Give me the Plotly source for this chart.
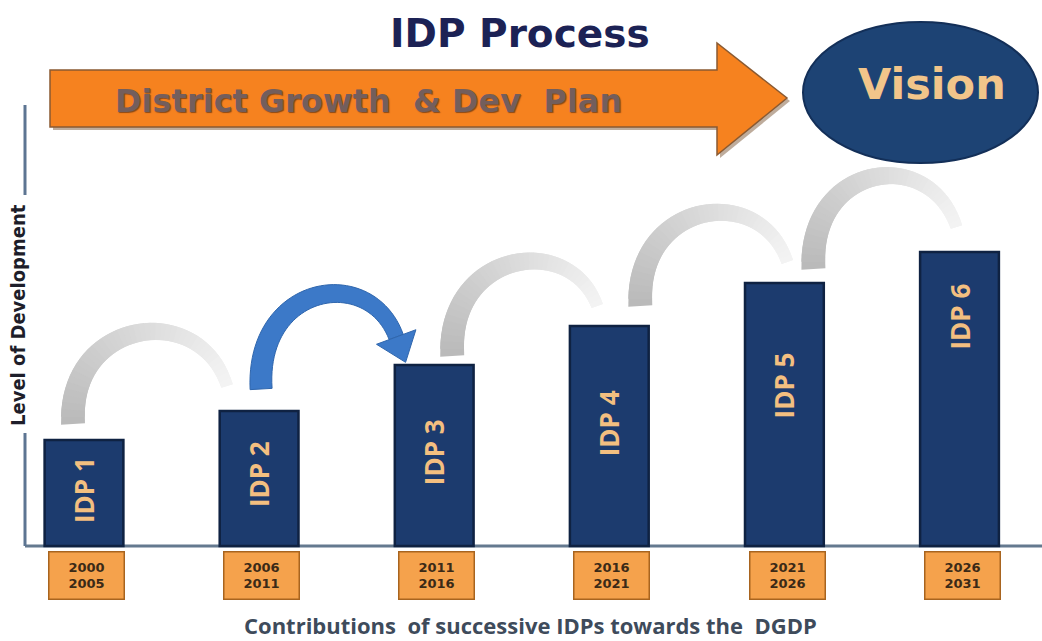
import numpy as np
import plotly.graph_objects as go

# ---- data -------------------------------------------------------------
plans = ["IDP 1", "IDP 2", "IDP 3", "IDP 4", "IDP 5", "IDP 6"]
periods = ["2000<br>2005", "2006<br>2011", "2011<br>2016",
           "2016<br>2021", "2021<br>2026", "2026<br>2031"]
levels = [1.06, 1.35, 1.81, 2.20, 2.63, 2.94]   # level of development

# ---- canvas geometry (pixels <-> axis units) --------------------------
W, H = 1042, 641
BASE_PX = 546          # pixel row of the zero line
X0_PX, STEP_PX = 84.0, 175.1
UNIT_PX = 100.0

def xd(px):
    return (px - X0_PX) / STEP_PX

def yd(py):
    return (BASE_PX - py) / UNIT_PX

def xp(x):
    return X0_PX + x * STEP_PX

def yp(y):
    return BASE_PX - y * UNIT_PX

pos = list(range(len(plans)))

# label placement (pixel rows of the rotated bar labels)
label_rows = [490, 474, 452, 423, 385, 317]
# arc anchors: (dx from bar centre, height above bar top) in pixels
arc_start = [(-11, 16), (2, 22), (18, 9), (31, 20), (29, 14)]
arc_end = [(-32, 25), (-38, 28), (-12, 20), (3, 21), (-3, 25)]

shapes = []


def path_from(points, close=True):
    s = "M " + " L ".join(f"{xd(x):.5f},{yd(y):.5f}" for x, y in points)
    return s + (" Z" if close else "")


def bezier(p0, p1, p2, p3, n):
    t = np.linspace(0, 1, n)[:, None]
    pts = ((1 - t) ** 3) * p0 + 3 * ((1 - t) ** 2) * t * p1 + 3 * (1 - t) * t ** 2 * p2 + t ** 3 * p3
    der = 3 * ((1 - t) ** 2) * (p1 - p0) + 6 * (1 - t) * t * (p2 - p1) + 3 * t ** 2 * (p3 - p2)
    der = der / np.linalg.norm(der, axis=1)[:, None]
    nrm = np.stack([-der[:, 1], der[:, 0]], axis=1)
    return t[:, 0], pts, der, nrm


def arc_curve(i):
    cx0, top0 = xp(pos[i]), yp(levels[i])
    cx1, top1 = xp(pos[i + 1]), yp(levels[i + 1])
    p0 = np.array([cx0 + arc_start[i][0], top0 - arc_start[i][1]])
    p3 = np.array([cx1 + arc_end[i][0], top1 - arc_end[i][1]])
    p1 = np.array([p0[0] - 6, p0[1] - 105])
    p2 = np.array([p3[0] - 27, p0[1] - 125])
    return p0, p1, p2, p3


# ---- faded grey arcs and the highlighted blue arc ----------------------
for i in range(len(plans) - 1):
    p0, p1, p2, p3 = arc_curve(i)
    if i == 1:
        n = 50
        t, pts, der, nrm = bezier(p0, p1, p2, p3, n)
        w = (22 + (15 - 22) * t)[:, None] / 2
        left = pts + nrm * w
        right = pts - nrm * w
        outline = [tuple(p) for p in left] + [tuple(p) for p in right[::-1]]
        shapes.append(dict(type="path", xref="x", yref="y", path=path_from(outline),
                           fillcolor="#3c79c8", line=dict(color="#2f66ad", width=1),
                           layer="above"))
        d, nn = der[-1], nrm[-1]
        tip = p3 + d * 27
        head = [tuple(p3 + nn * 21), tuple(tip), tuple(p3 - nn * 21)]
        shapes.append(dict(type="path", xref="x", yref="y", path=path_from(head),
                           fillcolor="#3c79c8", line=dict(color="#2f66ad", width=1),
                           layer="above"))
        continue
    n = 44
    t, pts, der, nrm = bezier(p0, p1, p2, p3, n)
    w = (24 + (12 - 24) * t)[:, None] / 2
    left = pts + nrm * w
    right = pts - nrm * w
    for k in range(n - 1):
        k2 = min(k + 2, n - 1)
        quad = [tuple(left[k]), tuple(left[k2]), tuple(right[k2]), tuple(right[k])]
        g = int(186 + (245 - 186) * (t[k] ** 0.85))
        col = f"rgb({g},{g},{g})"
        shapes.append(dict(type="path", xref="x", yref="y", path=path_from(quad),
                           fillcolor=col, line=dict(width=0), layer="above"))

# ---- banner arrow ------------------------------------------------------
arrow = [(50, 70), (717, 70), (717, 43), (787, 98), (717, 155), (717, 127), (50, 127)]
shadow = [(x + 3, y + 3) for x, y in arrow]
shapes.append(dict(type="path", xref="x", yref="y", path=path_from(shadow),
                   fillcolor="rgba(110,70,35,0.45)", line=dict(width=0), layer="above"))
shapes.append(dict(type="path", xref="x", yref="y", path=path_from(arrow),
                   fillcolor="#f6821f", line=dict(color="#8a5a32", width=1.5), layer="above"))

# ---- vision ellipse ----------------------------------------------------
shapes.append(dict(type="circle", xref="x", yref="y",
                   x0=xd(803), x1=xd(1038), y0=yd(163), y1=yd(22),
                   fillcolor="#1d4374", line=dict(color="#132f58", width=2), layer="above"))

# ---- axis lines --------------------------------------------------------
axis_col = "#5d7592"
shapes.append(dict(type="line", xref="x", yref="y", x0=xd(25), x1=xd(25), y0=yd(105), y1=yd(195),
                   line=dict(color=axis_col, width=3)))
shapes.append(dict(type="line", xref="x", yref="y", x0=xd(25), x1=xd(25), y0=yd(433), y1=0,
                   line=dict(color=axis_col, width=3)))
shapes.append(dict(type="line", xref="x", yref="y", x0=xd(25), x1=xd(1042), y0=0, y1=0,
                   line=dict(color="#64798f", width=3), layer="below"))

# ---- bars --------------------------------------------------------------
fig = go.Figure(go.Bar(
    x=pos, y=levels, width=0.45,
    marker=dict(color="#1c3b6e", line=dict(color="#0f2242", width=2.5)),
    hoverinfo="skip",
))

annotations = []
for i, name in enumerate(plans):
    annotations.append(dict(x=pos[i], y=yd(label_rows[i]), xref="x", yref="y", text=name,
                            textangle=-90, showarrow=False,
                            font=dict(family="Open Sans", size=26, color="#f3bf80", weight="bold")))
    annotations.append(dict(x=pos[i] + 0.015, y=yd(575), xref="x", yref="y", text=periods[i],
                            showarrow=False, width=72, height=44, borderpad=1, borderwidth=1.5,
                            bgcolor="#f5a24c", bordercolor="#a8641f", align="center",
                            font=dict(family="DejaVu Sans", size=13, color="#3b2a17", weight="bold")))

annotations += [
    dict(x=xd(520), y=yd(33), xref="x", yref="y", text="IDP Process", showarrow=False,
         font=dict(family="DejaVu Sans", size=39, color="#1c2255", weight="bold")),
    dict(x=xd(368), y=yd(101), xref="x", yref="y", text="District Growth  & Dev  Plan",
         showarrow=False,
         font=dict(family="DejaVu Sans", size=32, color="#735e5c", weight="bold",
                   shadow="1px 1px 1px rgba(70,35,15,0.6)")),
    dict(x=xd(932), y=yd(84), xref="x", yref="y", text="Vision", showarrow=False,
         font=dict(family="DejaVu Sans", size=43, color="#f2c58a", weight="bold")),
    dict(x=xd(530), y=yd(625), xref="x", yref="y",
         text="Contributions  of successive IDPs towards the  DGDP", showarrow=False,
         font=dict(family="Open Sans", size=22, color="#3e4b5b", weight="bold")),
    dict(x=xd(18), y=yd(315), xref="x", yref="y", text="Level of Development", showarrow=False,
         textangle=-90,
         font=dict(family="Liberation Sans Narrow, DejaVu Sans Condensed, sans-serif",
                   size=20, color="#1e1e2a", weight="bold")),
]

fig.update_layout(
    width=W, height=H,
    margin=dict(l=0, r=0, t=0, b=0),
    paper_bgcolor="white", plot_bgcolor="white",
    showlegend=False,
    xaxis=dict(range=[xd(0), xd(W)], visible=False, fixedrange=True),
    yaxis=dict(range=[yd(H), yd(0)], visible=False, fixedrange=True),
    shapes=shapes,
    annotations=annotations,
)

fig.write_html("out.html")
